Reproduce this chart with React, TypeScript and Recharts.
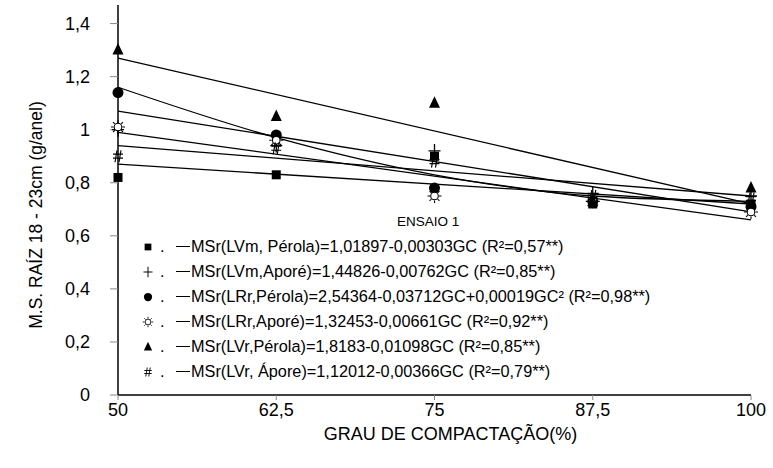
import React from 'react';
import { ComposedChart, Line, Scatter, XAxis, YAxis, Legend, Label } from 'recharts';

// grau de compactação (%)
const gc = [50, 62.5, 75, 87.5, 100];
const gcEnds = [50, 100];

// observed values (g/anel)
const lvmPerola = [0.82, 0.83, 0.9, 0.72, 0.72];
const lvmApore = [1.0, 0.94, 0.92, 0.76, 0.75];
const lrrPerola = [1.14, 0.98, 0.78, 0.73, 0.71];
const lrrApore = [1.01, 0.96, 0.75, 0.73, 0.69];
const lvrPerola = [1.3, 1.05, 1.1, 0.73, 0.78];
const lvrApore = [0.9, 0.93, 0.88, 0.75, 0.74];

// fitted lines
const fitLvmPerola = [0.87, 0.72];
const fitLvmApore = [1.07, 0.69];
const fitLrrPerola = [1.16, 0.97, 0.83, 0.75, 0.73];
const fitLrrApore = [0.99, 0.66];
const fitLvrPerola = [1.27, 0.72];
const fitLvrApore = [0.94, 0.75];

const yTicks = [0, 0.2, 0.4, 0.6, 0.8, 1, 1.2, 1.4];

const legendLabels = [
  'MSr(LVm, Pérola)=1,01897-0,00303GC (R²=0,57**)',
  'MSr(LVm,Aporé)=1,44826-0,00762GC (R²=0,85**)',
  'MSr(LRr,Pérola)=2,54364-0,03712GC+0,00019GC² (R²=0,98**)',
  'MSr(LRr,Aporé)=1,32453-0,00661GC (R²=0,92**)',
  'MSr(LVr,Pérola)=1,8183-0,01098GC (R²=0,85**)',
  'MSr(LVr, Ápore)=1,12012-0,00366GC (R²=0,79**)',
];

const FONT = '"Liberation Sans", Arial, sans-serif';

const Square = ({ cx, cy }: any) => <rect x={cx - 4.5} y={cy - 4.5} width={9} height={9} fill="#000" />;
const Plus = ({ cx, cy }: any) => (
  <g stroke="#000" strokeWidth={1.3}>
    <line x1={cx - 6} y1={cy} x2={cx + 6} y2={cy} />
    <line x1={cx} y1={cy - 7} x2={cx} y2={cy + 7} />
  </g>
);
const Dot = ({ cx, cy }: any) => <circle cx={cx} cy={cy} r={5.5} fill="#000" />;
const Sun = ({ cx, cy }: any) => {
  const rays = [0, 45, 90, 135, 180, 225, 270, 315].map((a) => {
    const r = (a * Math.PI) / 180;
    return (
      <line key={a} x1={cx + Math.cos(r) * 4.5} y1={cy + Math.sin(r) * 4.5}
        x2={cx + Math.cos(r) * 7} y2={cy + Math.sin(r) * 7} />
    );
  });
  return (
    <g stroke="#000" strokeWidth={1.1}>
      <circle cx={cx} cy={cy} r={3.8} fill="#fff" />
      {rays}
    </g>
  );
};
const Triangle = ({ cx, cy }: any) => (
  <polygon points={`${cx},${cy - 7} ${cx - 5.5},${cy + 4.5} ${cx + 5.5},${cy + 4.5}`} fill="#000" />
);
const Hash = ({ cx, cy }: any) => (
  <g stroke="#000" strokeWidth={1.2}>
    <line x1={cx - 1} y1={cy - 6} x2={cx - 3} y2={cy + 6} />
    <line x1={cx + 3} y1={cy - 6} x2={cx + 1} y2={cy + 6} />
    <line x1={cx - 5} y1={cy - 2} x2={cx + 5} y2={cy - 2} />
    <line x1={cx - 5} y1={cy + 2} x2={cx + 5} y2={cy + 2} />
  </g>
);

const shapes = [Square, Plus, Dot, Sun, Triangle, Hash];
const observed = [lvmPerola, lvmApore, lrrPerola, lrrApore, lvrPerola, lvrApore];
const fits = [fitLvmPerola, fitLvmApore, fitLrrPerola, fitLrrApore, fitLvrPerola, fitLvrApore];

const toPoints = (xs: number[], ys: number[]) => ys.map((y, i) => ({ x: xs[i], y }));

const CustomLegend = () => (
  <div style={{ fontFamily: FONT, color: '#000' }}>
    <div style={{ fontSize: 13.5, marginLeft: 257, height: 20, lineHeight: '20px', marginBottom: 2 }}>ENSAIO 1</div>
    {legendLabels.map((label, i) => {
      const Shape = shapes[i];
      return (
        <div key={label} style={{ display: 'flex', alignItems: 'center', height: 25, fontSize: 16.3, whiteSpace: 'nowrap' }}>
          <svg width={16} height={16} style={{ marginRight: 4 }}>
            <g transform="translate(8,8) scale(0.75)">
              <Shape cx={0} cy={0} />
            </g>
          </svg>
          <span style={{ width: 16 }}>.</span>
          <span style={{ display: 'inline-block', width: 14, borderTop: '1px solid #000', marginRight: 1 }} />
          <span>{label}</span>
        </div>
      );
    })}
  </div>
);

const YTitle = () => (
  <text transform="translate(36,215) rotate(-90)" textAnchor="middle" dominantBaseline="central"
    fontFamily={FONT} fontSize={17.5} fill="#000">
    M.S. RAÍZ 18 - 23cm (g/anel)
  </text>
);

export default function App() {
  return (
    <div style={{ position: 'absolute', left: 0, top: 0, width: 773, height: 468, background: '#fff' }}>
      <ComposedChart width={773} height={468} margin={{ top: 5, right: 22, bottom: 0, left: 0 }}>
        <XAxis dataKey="x" type="number" domain={[50, 100]} ticks={gc} height={73}
          tickFormatter={(v) => String(v).replace('.', ',')}
          axisLine={{ stroke: '#000', strokeWidth: 1.3 }} tickLine={{ stroke: '#888' }} tickSize={5} tickMargin={3}
          tick={{ fill: '#000', fontSize: 18, fontFamily: FONT }}>
          <Label value="GRAU DE COMPACTAÇÃO(%)" position="insideBottom" offset={28} dx={16}
            style={{ fontSize: 18, fontFamily: FONT, fill: '#000' }} />
        </XAxis>
        <YAxis type="number" domain={[0, 1.47]} ticks={yTicks} width={118} allowDataOverflow
          tickFormatter={(v) => String(v).replace('.', ',')}
          axisLine={{ stroke: '#000', strokeWidth: 1.5 }} tickLine={{ stroke: '#888' }} tickSize={8} tickMargin={20}
          tick={{ fill: '#000', fontSize: 18, fontFamily: FONT }}>
          <Label content={<YTitle />} />
        </YAxis>
        <Legend layout="vertical" align="center" verticalAlign="middle" content={<CustomLegend />}
          wrapperStyle={{ left: 140, top: 212, width: 520 }} />
        {fits.map((f, i) => (
          <Line key={`fit${i}`} data={toPoints(f.length === 2 ? gcEnds : gc, f)} dataKey="y"
            type={f.length === 2 ? 'linear' : 'monotone'} stroke="#000" strokeWidth={1.3}
            dot={false} activeDot={false} legendType="none" isAnimationActive={false} />
        ))}
        {observed.map((vals, i) => (
          <Scatter key={`obs${i}`} data={toPoints(gc, vals)} dataKey="y" shape={shapes[i]}
            legendType="none" isAnimationActive={false} />
        ))}
      </ComposedChart>
    </div>
  );
}
